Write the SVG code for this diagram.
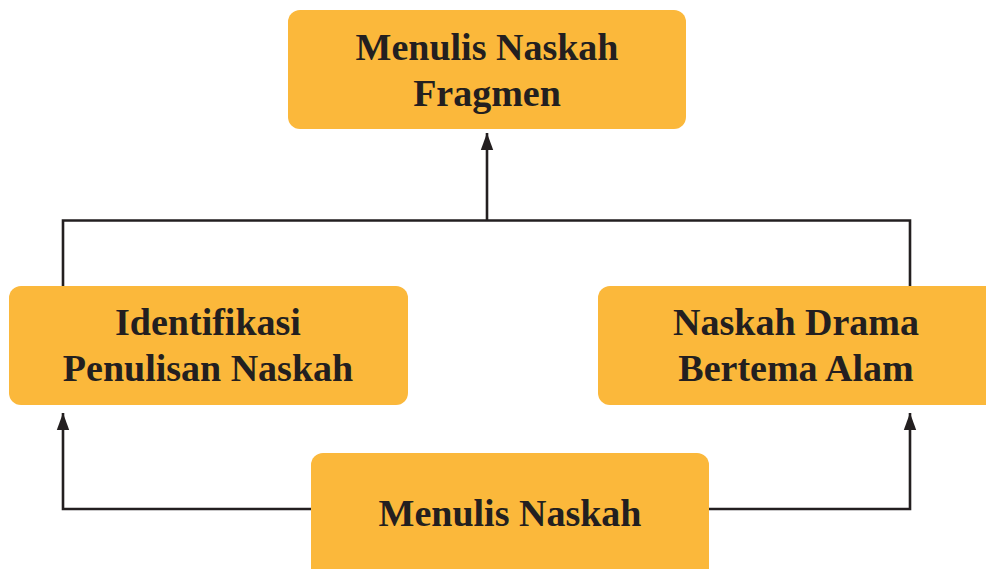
<svg xmlns="http://www.w3.org/2000/svg" width="986" height="569" viewBox="0 0 986 569">
<style>
.box{fill:#FBB83B}
.t{font-family:"Liberation Serif","Times New Roman",serif;font-weight:bold;font-size:38px;fill:#231F20;text-anchor:middle}
.c{fill:none;stroke:#231F20;stroke-width:2.6}
</style>
<defs>
<marker id="ah" markerUnits="userSpaceOnUse" markerWidth="20" markerHeight="14" viewBox="0 0 20 14" refX="19" refY="7" orient="auto">
<path d="M19 7 L2 0.8 L2 13.2 Z" fill="#231F20"/>
</marker>
</defs>
<rect width="986" height="569" fill="#fff"/>
<g id="connectors">
<path class="c" d="M63 286 V220.5 H910 V286"/>
<path class="c" d="M487 220.5 V133" marker-end="url(#ah)"/>
<path class="c" d="M311 509 H63 V413" marker-end="url(#ah)"/>
<path class="c" d="M709 509 H910 V413" marker-end="url(#ah)"/>
</g>
<g id="node-top">
<rect class="box" x="288" y="10" width="398" height="119" rx="12"/>
<text class="t" x="487" y="60">Menulis Naskah</text>
<text class="t" x="487" y="106">Fragmen</text>
</g>
<g id="node-left">
<rect class="box" x="9" y="286" width="399" height="119" rx="12"/>
<text class="t" x="208" y="335">Identifikasi</text>
<text class="t" x="208" y="381">Penulisan Naskah</text>
</g>
<g id="node-right">
<rect class="box" x="598" y="286" width="400" height="119" rx="12"/>
<text class="t" x="796" y="335">Naskah Drama</text>
<text class="t" x="796" y="381">Bertema Alam</text>
</g>
<g id="node-bottom">
<rect class="box" x="311" y="453" width="398" height="130" rx="12"/>
<text class="t" x="510" y="526">Menulis Naskah</text>
</g>
</svg>
